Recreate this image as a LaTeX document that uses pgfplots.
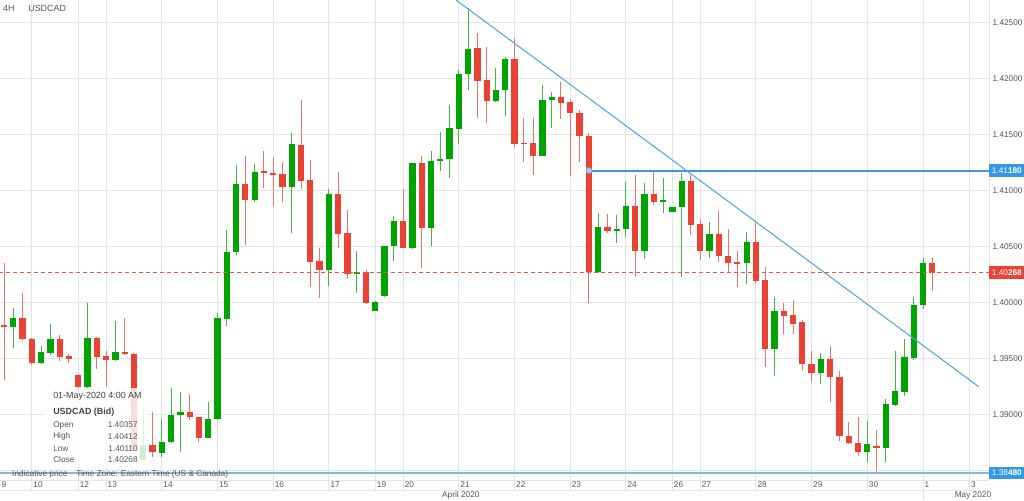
\documentclass[border=0pt]{standalone}
\usepackage{fontspec}
\setmainfont{Liberation Sans}
\usepackage{pgfplots}
\pgfplotsset{compat=1.18}
\usepackage{pgfplotstable}

\definecolor{cgreen}{RGB}{0,163,0}
\definecolor{cred}{RGB}{234,67,53}
\definecolor{gridc}{RGB}{228,228,228}
\definecolor{txtc}{RGB}{85,85,85}
\definecolor{tblue}{RGB}{74,160,230}
\definecolor{hblue}{RGB}{64,150,225}
\definecolor{lblue}{RGB}{125,185,235}
\definecolor{tagblue}{RGB}{52,152,230}
\definecolor{dashred}{RGB}{240,85,75}
\newcommand\sm{\fontsize{6.2}{7.4}\selectfont}
\newcommand\ttl{\fontsize{6.7}{8}\selectfont}

\pgfplotstableread{
k O H L C
1 1.39786 1.39955 1.39593 1.39866
4 1.39459 1.39613 1.39453 1.39557
5 1.39554 1.39810 1.39533 1.39673
9 1.39250 1.40000 1.39243 1.39682
12 1.39488 1.39839 1.39479 1.39557
15 1.38596 1.39060 1.38591 1.38730
17 1.38664 1.38962 1.38620 1.38759
18 1.38759 1.39241 1.38745 1.38997
19 1.38997 1.39200 1.38664 1.39027
22 1.38795 1.39111 1.38792 1.38962
23 1.38962 1.39911 1.38957 1.39861
24 1.39855 1.40649 1.39795 1.40450
25 1.40450 1.41230 1.40426 1.41060
27 1.40917 1.41238 1.40902 1.41170
31 1.41036 1.41518 1.40620 1.41414
35 1.40292 1.41015 1.40152 1.40971
38 1.40256 1.40462 1.40084 1.40277
40 1.39929 1.40015 1.39926 1.40009
41 1.40060 1.40510 1.40051 1.40506
42 1.40506 1.40774 1.40372 1.40732
44 1.40488 1.41247 1.40484 1.41245
46 1.40670 1.41355 1.40509 1.41265
47 1.41263 1.41521 1.41176 1.41286
48 1.41286 1.41765 1.41116 1.41557
49 1.41551 1.42078 1.41414 1.42048
50 1.42042 1.42629 1.41899 1.42271
53 1.41804 1.42096 1.41789 1.41905
54 1.41899 1.42191 1.41667 1.42176
58 1.41313 1.41944 1.41310 1.41816
59 1.41812 1.41879 1.41557 1.41834
64 1.40277 1.40798 1.40268 1.40673
66 1.40643 1.40783 1.40530 1.40658
67 1.40655 1.41080 1.40589 1.40863
69 1.40462 1.41066 1.40388 1.40971
71 1.40902 1.41111 1.40804 1.40917
72 1.40812 1.40854 1.40810 1.40852
73 1.40852 1.41161 1.40232 1.41087
76 1.40462 1.40718 1.40402 1.40611
80 1.40357 1.40634 1.40167 1.40545
83 1.39584 1.40048 1.39348 1.39926
88 1.39370 1.39554 1.39274 1.39497
93 1.38670 1.38946 1.38575 1.38736
95 1.38700 1.39140 1.38580 1.39093
96 1.39087 1.39571 1.39082 1.39212
97 1.39205 1.39676 1.39170 1.39513
98 1.39504 1.40054 1.39488 1.39980
99 1.39980 1.40402 1.39941 1.40357
}\up

\pgfplotstableread{
k O H L C
0 1.39798 1.40357 1.39310 1.39786
2 1.39861 1.40084 1.39667 1.39673
3 1.39682 1.39690 1.39448 1.39462
6 1.39673 1.39709 1.39482 1.39513
7 1.39524 1.39539 1.39459 1.39495
8 1.39355 1.39364 1.39238 1.39245
10 1.39682 1.39691 1.39405 1.39513
11 1.39524 1.39569 1.39250 1.39488
13 1.39557 1.39861 1.39533 1.39539
14 1.39542 1.39551 1.38658 1.38685
16 1.38730 1.39021 1.38625 1.38664
20 1.39027 1.39185 1.38953 1.38977
21 1.38977 1.38980 1.38754 1.38789
26 1.41060 1.41313 1.40515 1.40917
28 1.41176 1.41355 1.41021 1.41155
29 1.41161 1.41304 1.40863 1.41140
30 1.41146 1.41254 1.40902 1.41036
32 1.41414 1.41810 1.41015 1.41089
33 1.41096 1.41274 1.40143 1.40366
34 1.40372 1.40486 1.40045 1.40292
36 1.40971 1.41164 1.40486 1.40613
37 1.40620 1.40828 1.40209 1.40256
39 1.40277 1.40298 1.39993 1.39995
43 1.40732 1.41015 1.40486 1.40491
45 1.41245 1.41313 1.40307 1.40670
51 1.42271 1.42414 1.41655 1.41982
52 1.41988 1.42286 1.41602 1.41804
55 1.42176 1.42361 1.41379 1.41423
56 1.41429 1.41646 1.41259 1.41417
57 1.41423 1.41646 1.41140 1.41313
60 1.41834 1.41968 1.41638 1.41789
61 1.41789 1.41819 1.41134 1.41691
62 1.41691 1.41721 1.41259 1.41488
63 1.41488 1.41513 1.39995 1.40277
65 1.40673 1.40798 1.40625 1.40640
68 1.40863 1.41140 1.40227 1.40462
70 1.40971 1.41185 1.40872 1.40902
74 1.41087 1.41140 1.40604 1.40694
75 1.40700 1.40745 1.40381 1.40462
77 1.40611 1.40821 1.40366 1.40417
78 1.40417 1.40655 1.40277 1.40357
79 1.40361 1.40464 1.40138 1.40348
81 1.40545 1.40712 1.40167 1.40196
82 1.40203 1.40316 1.39429 1.39584
84 1.39926 1.40000 1.39721 1.39884
85 1.39890 1.40030 1.39721 1.39810
86 1.39825 1.39846 1.39399 1.39453
87 1.39453 1.39571 1.39289 1.39370
89 1.39497 1.39613 1.39111 1.39334
90 1.39339 1.39390 1.38768 1.38810
91 1.38812 1.38937 1.38736 1.38745
92 1.38745 1.38977 1.38634 1.38670
94 1.38723 1.38863 1.38480 1.38700
100 1.40357 1.40412 1.40110 1.40268
}\down

\begin{document}
\begin{tikzpicture}
\begin{axis}[
  scale only axis, width=741.75pt, height=360pt,
  xmin=-0.431, xmax=106.11, ymin=1.38417, ymax=1.42703,
  clip mode=individual,
  axis x line*=bottom, axis y line*=right,
  axis line style={draw=gridc, line width=0.75pt, -},
  tick align=outside,
  major tick length=7.5pt,
  xtick={3,8,11,17,23,29,35,40,43,49,55,61,67,72,75,81,87,93,99,104},
  xticklabels={10,12,13,14,15,16,17,19,20,21,22,23,24,26,27,28,29,30,1,3},
  xtick style={draw=gridc, line width=0.75pt},
  ytick={1.39,1.395,1.4,1.405,1.41,1.415,1.42,1.425},
  ytick style={draw=none},
  grid=major,
  major grid style={draw=gridc, line width=0.75pt},
  xticklabel style={font=\sm, text=txtc, anchor=west, inner sep=1pt, yshift=3.75pt},
  yticklabel style={font=\sm, text=txtc, anchor=west, inner sep=0pt, xshift=-5pt,
    /pgf/number format/.cd, fixed, fixed zerofill, precision=5, assume math mode=true},
]
% wicks
\addplot[draw=none, mark=none, forget plot, error bars/.cd, y dir=both, y explicit, error mark=none,
  error bar style={draw=cgreen!75!white, line width=0.75pt}]
  table[x=k, y expr={(\thisrow{H}+\thisrow{L})/2}, y error expr={(\thisrow{H}-\thisrow{L})/2}] {\up};
\addplot[draw=none, mark=none, forget plot, error bars/.cd, y dir=both, y explicit, error mark=none,
  error bar style={draw=cred!75!white, line width=0.75pt}]
  table[x=k, y expr={(\thisrow{H}+\thisrow{L})/2}, y error expr={(\thisrow{H}-\thisrow{L})/2}] {\down};
% bodies
\addplot[draw=none, mark=none, forget plot, error bars/.cd, y dir=both, y explicit, error mark=none,
  error bar style={draw=cgreen, line width=4.7pt}]
  table[x=k, y expr={(\thisrow{O}+\thisrow{C})/2}, y error expr={abs(\thisrow{C}-\thisrow{O})/2}] {\up};
\addplot[draw=none, mark=none, forget plot, error bars/.cd, y dir=both, y explicit, error mark=none,
  error bar style={draw=cred, line width=4.7pt}]
  table[x=k, y expr={(\thisrow{O}+\thisrow{C})/2}, y error expr={abs(\thisrow{C}-\thisrow{O})/2}] {\down};
% lines
\addplot[gridc, line width=0.75pt] coordinates {(-0.5,1.385) (106.2,1.385)};
\addplot[dashred, line width=0.75pt, dash pattern=on 3pt off 2.25pt] coordinates {(-0.5,1.40268) (106.2,1.40268)};
\addplot[lblue, line width=1.6pt] coordinates {(-0.5,1.3848) (106.2,1.3848)};
\addplot[hblue, line width=1.5pt] coordinates {(63.02,1.4118) (106.2,1.4118)};
\addplot[tblue, line width=0.75pt] coordinates {(48.69,1.42703) (105.0,1.39250)};
\addplot[only marks, mark=*, mark size=2.2pt, mark options={fill=hblue!45!white, draw=hblue!80!white, line width=0.5pt}] coordinates {(63.02,1.4118)};

\coordinate (TL) at (rel axis cs:0,1);
% tooltip
\fill[white, opacity=0.82] (axis cs:4.42,1.39238) rectangle (axis cs:15.51,1.38533);
\node[anchor=west, font=\ttl, text=txtc!80!black, inner sep=0pt] at (axis cs:5.28,1.39167) {01-May-2020 4:00 AM};
\node[anchor=west, font=\ttl\bfseries, text=txtc!80!black, inner sep=0pt] at (axis cs:5.28,1.39024) {USDCAD (Bid)};
\node[anchor=west, font=\sm, text=txtc, inner sep=0pt] at (axis cs:5.28,1.38908) {Open};
\node[anchor=west, font=\sm, text=txtc, inner sep=0pt] at (axis cs:5.28,1.38805) {High};
\node[anchor=west, font=\sm, text=txtc, inner sep=0pt] at (axis cs:5.28,1.38700) {Low};
\node[anchor=west, font=\sm, text=txtc, inner sep=0pt] at (axis cs:5.28,1.38600) {Close};
\node[anchor=east, font=\sm, text=txtc, inner sep=0pt] at (axis cs:14.43,1.38908) {1.40357};
\node[anchor=east, font=\sm, text=txtc, inner sep=0pt] at (axis cs:14.43,1.38805) {1.40412};
\node[anchor=east, font=\sm, text=txtc, inner sep=0pt] at (axis cs:14.43,1.38700) {1.40110};
\node[anchor=east, font=\sm, text=txtc, inner sep=0pt] at (axis cs:14.43,1.38600) {1.40268};
% info
\node[anchor=west, font=\sm, text=txtc, inner sep=0pt] at (axis cs:0.86,1.38470) {Indicative price};
\node[anchor=west, font=\sm, text=txtc, inner sep=0pt] at (axis cs:7.76,1.38470) {Time Zone: Eastern Time (US \& Canada)};
% title
\node[anchor=west, font=\ttl, text=txtc, inner sep=0pt] at (axis cs:-0.11,1.42631) {4H};
\node[anchor=west, font=\ttl, text=txtc, inner sep=0pt] at (axis cs:2.59,1.42631) {USDCAD};
% bottom rows
\draw[gridc, line width=0.75pt] ([yshift=-7.5pt]rel axis cs:0,0) -- ([yshift=-7.5pt]rel axis cs:1,0);
\draw[gridc, line width=0.75pt] ([yshift=-7.5pt]axis cs:99,1.38417) -- ([yshift=-15pt]axis cs:99,1.38417);
\node[anchor=west, font=\sm, text=txtc, inner sep=1pt] at ([yshift=-3.75pt]rel axis cs:0,0) {9};
\node[anchor=west, font=\sm, text=txtc, inner sep=0pt] at ([yshift=-11.25pt]axis cs:47.18,1.38417) {April 2020};
\node[anchor=west, font=\sm, text=txtc, inner sep=0pt] at ([yshift=-11.25pt]axis cs:102.4,1.38417) {May 2020};
% tags
\node[fill=tagblue, text=white, anchor=west, inner xsep=2pt, inner ysep=0pt, minimum height=9.5pt, font=\sm] at ({rel axis cs:1,0}|-{axis cs:0,1.4118}) {1.41\textbf{180}};
\node[fill=cred, text=white, anchor=west, inner xsep=2pt, inner ysep=0pt, minimum height=9.5pt, font=\sm] at ({rel axis cs:1,0}|-{axis cs:0,1.40268}) {1.40\textbf{268}};
\node[fill=tagblue, text=white, anchor=west, inner xsep=2pt, inner ysep=0pt, minimum height=9.5pt, font=\sm] at ({rel axis cs:1,0}|-{axis cs:0,1.3848}) {1.38\textbf{480}};
\end{axis}
\pgfresetboundingbox
\path[use as bounding box] (TL) rectangle ([xshift=768pt,yshift=-375pt]TL);
\end{tikzpicture}
\end{document}
